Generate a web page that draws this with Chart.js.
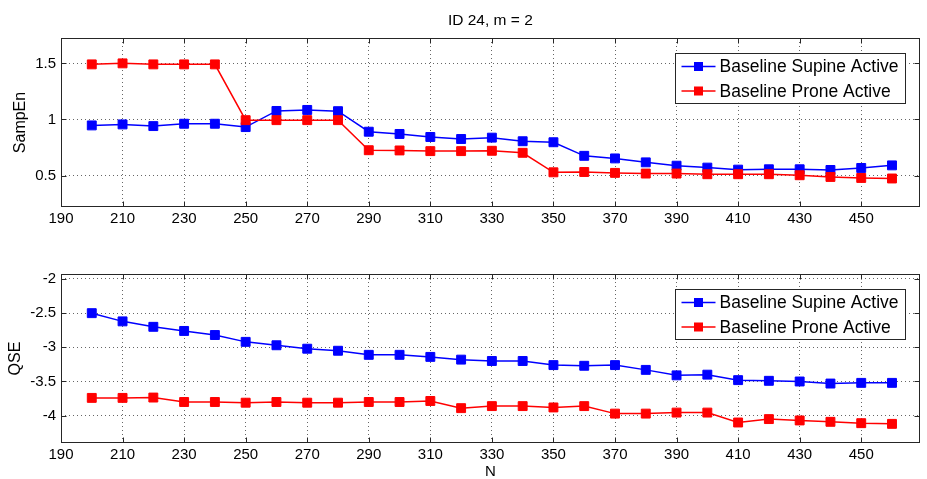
<!DOCTYPE html>
<html><head><meta charset="utf-8">
<script src="https://cdn.jsdelivr.net/npm/chart.js@4"></script>
<style>
html,body{margin:0;padding:0;background:#fff;}
#wrap{position:relative;width:927px;height:479px;background:#fff;}
canvas{position:absolute;left:0;}
</style></head><body>
<div id="wrap">
<canvas id="c1" width="927" height="240" style="top:0;width:927px;height:240px"></canvas>
<canvas id="c2" width="927" height="239" style="top:240px;width:927px;height:239px"></canvas>
</div>
<script>
const N = [200,210,220,230,240,250,260,270,280,290,300,310,320,330,340,350,360,370,380,390,400,410,420,430,440,450,460];
const sampenSupine = [0.947,0.956,0.941,0.962,0.962,0.932,1.076,1.085,1.074,0.891,0.871,0.844,0.826,0.838,0.806,0.797,0.676,0.653,0.618,0.588,0.571,0.553,0.556,0.556,0.550,0.568,0.591];
const sampenProne = [1.491,1.500,1.491,1.491,1.491,0.994,0.994,0.994,0.994,0.726,0.724,0.718,0.718,0.721,0.703,0.529,0.532,0.524,0.518,0.518,0.512,0.512,0.512,0.503,0.488,0.479,0.474];
const qseSupine = [-2.50,-2.62,-2.70,-2.76,-2.82,-2.92,-2.97,-3.02,-3.05,-3.11,-3.11,-3.14,-3.18,-3.20,-3.20,-3.26,-3.27,-3.26,-3.33,-3.41,-3.40,-3.48,-3.49,-3.50,-3.53,-3.52,-3.52];
const qseProne = [-3.74,-3.74,-3.735,-3.80,-3.80,-3.81,-3.80,-3.81,-3.81,-3.80,-3.80,-3.785,-3.89,-3.86,-3.86,-3.88,-3.86,-3.97,-3.97,-3.955,-3.955,-4.10,-4.05,-4.07,-4.09,-4.11,-4.12];
const xTicks = [190,210,230,250,270,290,310,330,350,370,390,410,430,450];
const sampenTicks = [0.5,1,1.5];
const qseTicks = [-4,-3.5,-3,-2.5,-2];
const seriesLabels = ['Baseline Supine Active','Baseline Prone Active'];
const seriesColors = ['#0000ff','#ff0000'];
const titleText = 'ID 24, m = 2';

const FONT = "'Liberation Sans', Arial, sans-serif";

const framePlugin = {
  id: 'frame',
  afterDraw(chart) {
    const {ctx, chartArea: a, scales: {x, y}} = chart;
    ctx.save();
    ctx.strokeStyle = '#262626';
    ctx.lineWidth = 1;
    const L = Math.round(a.left) + 0.5, R = Math.round(a.right) - 0.5;
    const T = Math.round(a.top) + 0.5, B = Math.round(a.bottom) - 0.5;
    ctx.strokeRect(L, T, R - L, B - T);
    ctx.beginPath();
    x.ticks.forEach(t => {
      const px = Math.round(x.getPixelForValue(t.value)) + 0.5;
      ctx.moveTo(px, B); ctx.lineTo(px, B - 5);
      ctx.moveTo(px, T); ctx.lineTo(px, T + 5);
    });
    y.ticks.forEach(t => {
      const py = Math.round(y.getPixelForValue(t.value)) + 0.5;
      ctx.moveTo(L, py); ctx.lineTo(L + 5, py);
      ctx.moveTo(R, py); ctx.lineTo(R - 5, py);
    });
    ctx.stroke();
    // legend box inside axes
    const w = 230, h = 50;
    const bx = Math.round(a.right - 15 - w) + 0.5, by = Math.round(a.top + 15) + 0.5;
    ctx.fillStyle = '#fff';
    ctx.fillRect(bx, by, w, h);
    ctx.strokeStyle = '#262626';
    ctx.strokeRect(bx, by, w, h);
    ctx.font = '17.5px ' + FONT;
    ctx.textBaseline = 'middle';
    ctx.textAlign = 'left';
    seriesLabels.forEach((lab, i) => {
      const ry = by + 13 + i * 24.5;
      ctx.strokeStyle = seriesColors[i];
      ctx.lineWidth = 1.5;
      ctx.beginPath(); ctx.moveTo(bx + 6, ry); ctx.lineTo(bx + 40, ry); ctx.stroke();
      ctx.fillStyle = seriesColors[i];
      ctx.fillRect(bx + 23 - 4.5, ry - 4.5, 9, 9);
      ctx.fillStyle = '#000';
      ctx.fillText(lab, bx + 44, ry + 1);
    });
    ctx.restore();
  }
};

function ds(arr, i) {
  return {
    label: seriesLabels[i],
    data: N.map((n, k) => ({x: n, y: arr[k]})),
    borderColor: seriesColors[i],
    backgroundColor: seriesColors[i],
    borderWidth: 1.5,
    pointStyle: 'rect',
    pointRadius: 6.3,
    pointBorderWidth: 1,
    pointBorderColor: seriesColors[i],
    pointBackgroundColor: seriesColors[i],
    tension: 0,
    order: i === 0 ? 1 : 0
  };
}

function makeChart(id, cfg) {
  return new Chart(document.getElementById(id), {
    type: 'line',
    data: {datasets: [ds(cfg.a, 0), ds(cfg.b, 1)]},
    plugins: [framePlugin],
    options: {
      responsive: false,
      animation: false,
      devicePixelRatio: 1,
      layout: {padding: {left: 0, right: 5, top: cfg.padTop, bottom: 0}},
      plugins: {
        legend: {display: false},
        tooltip: {enabled: false},
        title: cfg.title ? {display: true, text: cfg.title, color: '#000', fullSize: false,
          font: {family: FONT, size: 15.5, weight: 'normal', lineHeight: 1.2},
          padding: {top: 11, bottom: 8.4}} : {display: false}
      },
      scales: {
        x: {
          type: 'linear', min: 190, max: 469,
          afterBuildTicks: s => { s.ticks = xTicks.map(v => ({value: v})); },
          afterFit: s => { s.height = cfg.xH; },
          ticks: {autoSkip: false, maxRotation: 0, padding: 3, color: '#000',
            font: {family: FONT, size: 15}, callback: v => String(v)},
          grid: {color: 'rgba(0,0,0,0.6)', lineWidth: 1, drawTicks: false},
          border: {display: false, dash: [1, 3]},
          title: cfg.xTitle ? {display: true, text: cfg.xTitle, color: '#000',
            font: {family: FONT, size: 15, lineHeight: 1}, padding: {top: 0, bottom: 0}} : {display: false}
        },
        y: {
          type: 'linear', min: cfg.ymin, max: cfg.ymax,
          afterBuildTicks: s => { s.ticks = cfg.yTicks.map(v => ({value: v})); },
          afterFit: s => { s.width = 61; },
          ticks: {padding: 5, color: '#000', font: {family: FONT, size: 15}, callback: v => String(v)},
          grid: {color: 'rgba(0,0,0,0.6)', lineWidth: 1, drawTicks: false},
          border: {display: false, dash: [1, 3]},
          title: {display: true, text: cfg.yTitle, color: '#000',
            font: {family: FONT, size: 16, lineHeight: 1}, padding: {top: cfg.yTitlePad, bottom: 0}}
        }
      }
    }
  });
}

makeChart('c1', {a: sampenSupine, b: sampenProne, title: titleText, padTop: 0, xH: 33,
  ymin: 0.22, ymax: 1.726, yTicks: sampenTicks, yTitle: 'SampEn', yTitlePad: 13});
makeChart('c2', {a: qseSupine, b: qseProne, title: null, padTop: 34, xH: 36, xTitle: 'N',
  ymin: -4.40, ymax: -1.927, yTicks: qseTicks, yTitle: 'QSE', yTitlePad: 7.5});
</script>
</body></html>
